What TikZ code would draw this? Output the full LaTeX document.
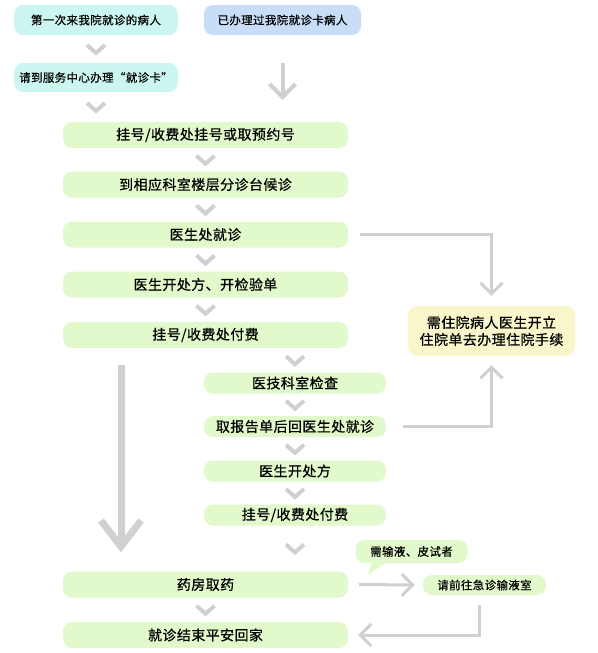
\documentclass[tikz,border=0pt]{standalone}
\usepackage{fontspec}
\newfontfamily\cjk[LetterSpace=3,FakeBold=0.6]{Noto Sans CJK SC}
\usetikzlibrary{arrows.meta,calc}

\definecolor{stepgreen}{RGB}{226,249,204}
\definecolor{stepcyan}{RGB}{204,246,240}
\definecolor{stepblue}{RGB}{200,222,248}
\definecolor{stepyellow}{RGB}{250,246,204}
\definecolor{linegrey}{RGB}{208,208,208}

\tikzset{
  chevron/.pic={\draw[linegrey, line width=4pt] (-9,-4) -- (0,4) -- (9,-4);},
}
% chevron between two boxes, in the column of the first argument
\newcommand{\chev}[3]{\pic at ($(#1.center |- #2.south)!0.5!(#1.center |- #3.north)$) {chevron};}

\begin{document}
\begin{tikzpicture}[x=1pt, y=-1pt,
  box/.style={rounded corners=9pt, inner sep=0pt, font=\cjk\fontsize{14}{17}\selectfont, text=black},
  mainbox/.style={box, fill=stepgreen, minimum width=285pt, minimum height=26pt},
  sidebox/.style={box, fill=stepgreen, minimum width=182pt, minimum height=21pt},
  smallbox/.style={box, font=\cjk\fontsize{11.5}{14}\selectfont},
  link/.style={linegrey, line width=3pt, -{Straight Barb[length=11pt,width=22pt]}},
  bigarrow/.style={linegrey, line width=4pt, -{Straight Barb[length=13pt,width=26pt]}},
]
\useasboundingbox (0,0) rectangle (597,653);

\node[smallbox, fill=stepcyan, minimum width=164pt, minimum height=30pt] at (96,20) (first) {第一次来我院就诊的病人};
\node[smallbox, fill=stepblue, minimum width=157pt, minimum height=30pt] at (282.5,20) (hascard) {已办理过我院就诊卡病人};
\node[smallbox, fill=stepcyan, minimum width=164pt, minimum height=29pt] at (96,77.5) (getcard) {请到服务中心办理“就诊卡”};

\node[mainbox] at (205.5,135) (register) {挂号/收费处挂号或取预约号};
\node[mainbox] at (205.5,184.5) (wait) {到相应科室楼层分诊台候诊};
\node[mainbox] at (205.5,234.5) (visit) {医生处就诊};
\node[mainbox] at (205.5,284.5) (order) {医生开处方、开检验单};
\node[mainbox] at (205.5,335) (pay) {挂号/收费处付费};

\node[sidebox] at (295,383) (check) {医技科室检查};
\node[sidebox] at (295,426.5) (report) {取报告单后回医生处就诊};
\node[sidebox] at (295,471) (recipe) {医生开处方};
\node[sidebox] at (295,515) (paytwo) {挂号/收费处付费};

\node[mainbox] at (205.5,584.5) (pharmacy) {药房取药};
\node[mainbox] at (205.5,635) (home) {就诊结束平安回家};

\node[box, fill=stepyellow, minimum width=167pt, minimum height=50pt, align=center] at (491.5,331) (hospital) {需住院病人医生开立\\住院单去办理住院手续};
\node[smallbox, fill=stepgreen, minimum width=112pt, minimum height=23pt] at (411.5,551.5) (bubble) {需输液、皮试者};
\node[smallbox, fill=stepgreen, minimum width=123pt, minimum height=20pt] at (484.5,585) (infusion) {请前往急诊输液室};

% speech bubble tail
\fill[stepgreen] ([xshift=17pt,yshift=3pt]bubble.south west) -- (368,575) -- ([xshift=34pt,yshift=3pt]bubble.south west) -- cycle;

% chevrons
\chev{first}{first}{getcard}
\chev{getcard}{getcard}{register}
\chev{register}{register}{wait}
\chev{wait}{wait}{visit}
\chev{visit}{visit}{order}
\chev{order}{order}{pay}
\chev{check}{pay}{check}
\chev{check}{check}{report}
\chev{report}{report}{recipe}
\chev{recipe}{recipe}{paytwo}
\chev{paytwo}{paytwo}{pharmacy}
\chev{pharmacy}{pharmacy}{home}

% arrows
\draw[bigarrow] ([yshift=-28pt]hascard.south) -- ([yshift=22pt]hascard.south |- register.north);
\draw[linegrey, line width=7pt, -{Straight Barb[length=26pt,width=40pt]}] ([xshift=-84.5pt,yshift=-17pt]pay.south) -- ([xshift=-84.5pt,yshift=19pt]pharmacy.north);
\draw[link] ([xshift=12pt]visit.east) -| ([yshift=10pt]hospital.north);
\draw[link] ([xshift=17pt]report.east) -| ([yshift=-9pt]hospital.south);
\draw[link] ([xshift=11pt]pharmacy.east) -- ([xshift=-8pt]infusion.west);
\draw[link] ([xshift=-5pt,yshift=-10pt]infusion.south) |- ([xshift=10pt]home.east);

\end{tikzpicture}
\end{document}
